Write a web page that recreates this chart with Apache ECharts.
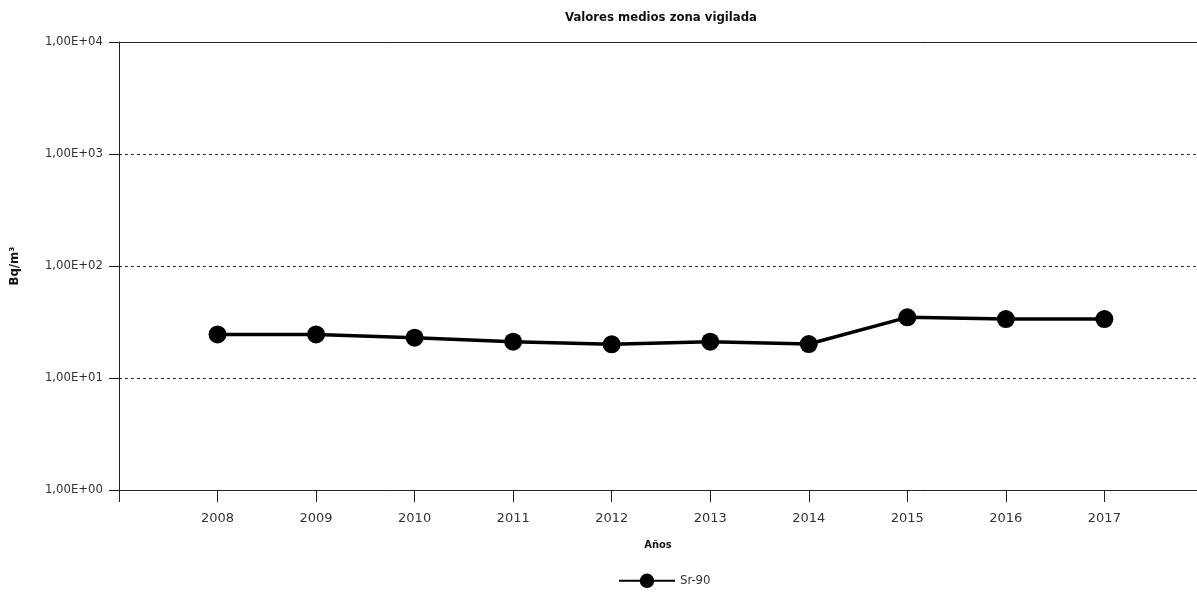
<!DOCTYPE html>
<html>
<head>
<meta charset="utf-8">
<script src="https://cdn.jsdelivr.net/npm/echarts@6/dist/echarts.min.js"></script>
<style>html,body{margin:0;padding:0;background:#fff}#c{width:1197px;height:596px}</style>
</head>
<body>
<div id="c"></div>
<script>
var years = [2008, 2009, 2010, 2011, 2012, 2013, 2014, 2015, 2016, 2017];
var tickYears = [2007, 2008, 2009, 2010, 2011, 2012, 2013, 2014, 2015, 2016, 2017];
var sr90 = [24.5, 24.5, 22.9, 21.1, 20.0, 21.1, 20.1, 34.8, 33.6, 33.6];
var seriesName = 'Sr-90';
var titleText = 'Valores medios zona vigilada';
var xName = 'Años';
var yName = 'Bq/m³';

var condensed = '"Liberation Sans Narrow", "DejaVu Sans Condensed", "Roboto Condensed", sans-serif';
var chart = echarts.init(document.getElementById('c'));
function fmtExp(v) {
  var e = Math.round(Math.log10(v));
  var s = (e < 10 ? '0' : '') + Math.abs(e);
  return '1,00E' + (e >= 0 ? '+' : '-') + s;
}
chart.setOption({
  animation: false,
  title: {
    text: titleText, left: 656, top: 6, textAlign: 'center',
    textStyle: { fontFamily: condensed, fontWeight: 'bold', fontSize: 13, color: '#111' }
  },
  legend: {
    bottom: 3, left: 613, itemWidth: 56, itemHeight: 18, itemGap: 10,
    data: [seriesName],
    textStyle: { fontFamily: '"DejaVu Sans Condensed", "DejaVu Sans", sans-serif', fontSize: 13, color: '#333' }
  },
  grid: { left: 119, right: 0, top: 42, bottom: 106, containLabel: false },
  xAxis: [{
    type: 'value', min: 2007, max: 2017.94, interval: 1,
    name: xName, nameLocation: 'middle', nameGap: 50,
    nameTextStyle: { fontFamily: condensed, fontWeight: 'bold', fontSize: 11, color: '#111' },
    axisLine: { show: true, lineStyle: { color: '#222', width: 1 } },
    axisTick: { show: true, length: 12, customValues: tickYears, lineStyle: { color: '#222' } },
    axisLabel: {
      margin: 22, fontFamily: '"DejaVu Sans", sans-serif', fontSize: 13, color: '#333',
      customValues: years,
      formatter: function (v) { return String(v); }
    },
    splitLine: { show: false }
  }, {
    type: 'value', position: 'top', min: 2007, max: 2017.94,
    axisLine: { show: true, onZero: false, lineStyle: { color: '#222', width: 1 } },
    axisTick: { show: false }, axisLabel: { show: false }, splitLine: { show: false }
  }],
  yAxis: {
    type: 'log', logBase: 10, min: 1, max: 10000,
    name: yName, nameLocation: 'middle', nameGap: 98, nameRotate: 90,
    nameTextStyle: { fontFamily: condensed, fontWeight: 'bold', fontSize: 13, color: '#111' },
    axisLine: { show: true, lineStyle: { color: '#222', width: 1 } },
    axisTick: { show: true, length: 10, lineStyle: { color: '#222' } },
    axisLabel: { margin: 16, fontFamily: condensed, fontSize: 13, color: '#333', formatter: fmtExp },
    splitLine: { show: true, showMinLine: false, showMaxLine: false, lineStyle: { type: [3, 3], color: '#333', width: 1 } }
  },
  series: [{
    name: seriesName, type: 'line',
    data: years.map(function (y, i) { return [y, sr90[i]]; }),
    symbol: 'circle', symbolSize: 18,
    lineStyle: { color: '#000', width: 3.5 },
    itemStyle: { color: '#000' }
  }]
});
</script>
</body>
</html>
